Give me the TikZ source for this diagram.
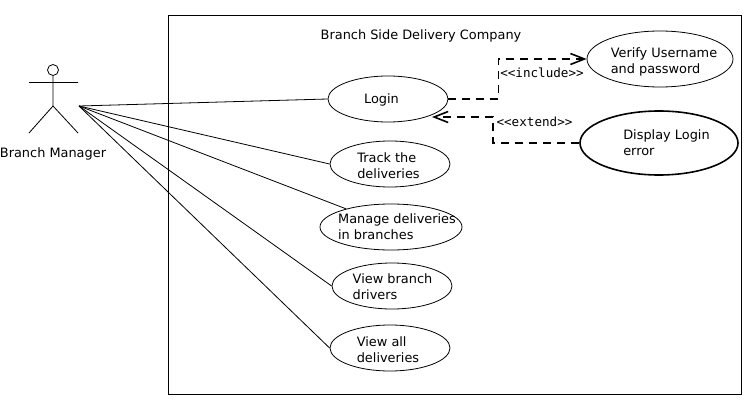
\documentclass[tikz,border=0pt]{standalone}
\usepackage{fontspec}
\setmainfont{DejaVu Sans}
\setmonofont{DejaVu Sans Mono}
\usetikzlibrary{arrows.meta,shapes.geometric}
\tikzset{>={Straight Barb[length=14pt,width=11pt]},
  usecase/.style={ellipse,draw,line width=.8pt,inner sep=0pt,minimum width=120,minimum height=46,font=\fontsize{12.9}{16}\selectfont},
  assoc/.style={line width=.8pt},
  depends/.style={->,line width=1.6pt,dash pattern=on 8pt off 6pt},
  stereo/.style={font=\ttfamily\fontsize{12.6}{15}\selectfont,inner sep=0pt},
  plain label/.style={font=\fontsize{12.9}{16}\selectfont,inner sep=0pt}}
\newcommand{\uctext}[3][-4.5pt]{\makebox[0pt]{\hspace*{#2}\hspace*{#2}\raisebox{#1}[0pt][0pt]{\begin{tabular}{@{}l@{}}#3\end{tabular}}}}

\begin{document}
\begin{tikzpicture}[x=1pt,y=-1pt]
    \useasboundingbox (0,0) rectangle (752,409);
    \fill [white] (0,0) rectangle (752,409);
    \node [draw,minimum width=573,minimum height=379,inner sep=0pt] (system) at (454.5,204.5) {};
    \node [plain label] (title) at (421,35.5) {Branch Side Delivery Company};
    % actor
    \node [circle,draw,line width=.8pt,minimum size=11,inner sep=0pt] (head) at (53,70) {};
    \coordinate (hip) at (53,106);
    \coordinate (armL) at (29,82.5);
    \coordinate (armR) at (78,82.5);
    \coordinate (footL) at (29,133);
    \coordinate (footR) at (78,133);
    \coordinate (hand) at (79,106);
    \draw [assoc] (head) -- (hip) -- (footL) (hip) -- (footR) (armL) -- (armR);
    \node [plain label] (manager) at (53,154) {Branch Manager};
    % use cases
    \node [usecase] (login) at (388,99) {\uctext{-6.5pt}{Login}};
    \node [usecase] (track) at (390,164) {\uctext[-6pt]{-1.5pt}{Track the\\deliveries}};
    \node [usecase,minimum width=142] (manage) at (391,227) {\uctext{6pt}{Manage deliveries\\in branches}};
    \node [usecase] (drivers) at (392,286) {\uctext[-5.5pt]{.5pt}{View branch\\drivers}};
    \node [usecase] (all) at (390,348) {\uctext[-6.5pt]{-2pt}{View all\\deliveries}};
    \node [usecase,minimum width=146,minimum height=56] (verify) at (660,59) {\uctext[-6.5pt]{4pt}{Verify Username\\and password}};
    \node [usecase,line width=1.6pt,minimum width=158,minimum height=64] (display) at (659,143) {\uctext{7.5pt}{Display Login\\error}};
    % associations
    \foreach \target/\ang in {login/180,track/180,manage/158,drivers/180,all/180}
      \draw [assoc] (hand) -- (\target.\ang);
    % dependencies
    \coordinate (loginport) at (432,117);
    \draw [depends] (login.east) -- ++(50,0) |- (verify.west);
    \draw [depends] (display.west) -- ++(-86,0) |- (loginport);
    \node [stereo] (include) at (542,73) {<{}<include>{}>};
    \node [stereo] (extend) at (534.5,122) {<{}<extend>{}>};
  \end{tikzpicture}
\end{document}
